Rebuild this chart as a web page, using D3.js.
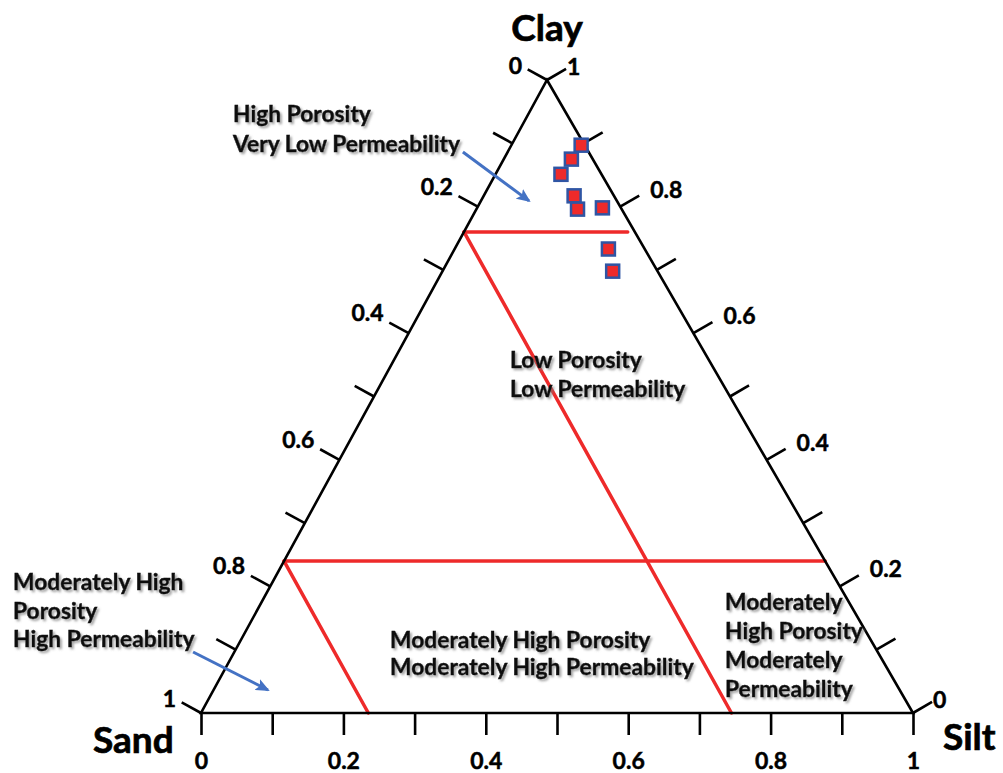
<!DOCTYPE html>
<html>
<head>
<meta charset="utf-8">
<script src="https://cdn.jsdelivr.net/npm/d3@7"></script>
<style>
  html, body { margin: 0; padding: 0; background: #fff; }
  svg { display: block; font-family: Lato, "Open Sans", sans-serif; }
</style>
</head>
<body>
<svg id="chart" width="1003" height="773"></svg>
<script>
// Sample compositions (fractions of sand, silt and clay)
const sampleSand = [0.005, 0.030, 0.057, 0.056, 0.062, 0.026, 0.051, 0.063];
const sampleSilt = [0.098, 0.095, 0.092, 0.127, 0.142, 0.176, 0.216, 0.239];
const sampleClay = [0.897, 0.875, 0.851, 0.817, 0.796, 0.798, 0.733, 0.698];

// Axis ticks and the values that carry a label
const tickValues  = [0, 0.1, 0.2, 0.3, 0.4, 0.5, 0.6, 0.7, 0.8, 0.9, 1];
const labelValues = [0, 0.2, 0.4, 0.6, 0.8, 1];

// Class boundaries as [sand, silt, clay] end points
const boundaryFrom = [[0.24, 0, 0.76], [0.24, 0, 0.76],     [0.76, 0, 0.24], [0.76, 0, 0.24]];
const boundaryTo   = [[0.01, 0.23, 0.76], [0.255, 0.745, 0], [0, 0.76, 0.24], [0.765, 0.235, 0]];

// Class names
const regionText = [
  ["High Porosity", "Very Low Permeability"],
  ["Low Porosity", "Low Permeability"],
  ["Moderately High", "Porosity", "High Permeability"],
  ["Moderately High Porosity", "Moderately High Permeability"],
  ["Moderately", "High Porosity", "Moderately", "Permeability"]
];
// Pointer arrows, [sand, silt, clay] of tail and tip
const arrowTail = [[0.1766, -0.0628, 0.886], [0.962, -0.058, 0.0964]];
const arrowTip  = [[0.1234, 0.0676, 0.809],  [0.887, 0.0764, 0.0363]];

const vertexNames = ["Sand", "Silt", "Clay"];

// ---- layout ----
const svg = d3.select("#chart");
const P = { sand: [201, 713], silt: [913, 713], clay: [547, 80] };

const xScale = d3.scaleLinear().domain([0, 1]).range([P.sand[0], P.silt[0]]);   // silt along the base
const yScale = d3.scaleLinear().domain([0, 1]).range([P.sand[1], P.clay[1]]);   // clay upward
const lean   = d3.scaleLinear().domain([0, 1]).range([0, P.clay[0] - P.sand[0]]);

function project(c) {
  const s = c[0] + c[1] + c[2];
  const si = c[1] / s, cl = c[2] / s;
  return [xScale(si) + lean(cl), yScale(cl)];
}

const fmt = d3.format("~g");
const INK = "#000";
const RED = "#ee2a2a";
const BLUE = "#4472c4";

const defs = svg.append("defs");
const shadow = defs.append("filter").attr("id", "txtShadow")
  .attr("x", "-10%").attr("y", "-30%").attr("width", "130%").attr("height", "170%");
shadow.append("feDropShadow").attr("dx", 2).attr("dy", 2).attr("stdDeviation", 1.3)
  .attr("flood-color", "#777").attr("flood-opacity", 0.65);

defs.append("marker").attr("id", "arrowHead")
  .attr("markerUnits", "userSpaceOnUse")
  .attr("viewBox", "0 0 14 12").attr("markerWidth", 14).attr("markerHeight", 12)
  .attr("refX", 12).attr("refY", 6).attr("orient", "auto")
  .append("path").attr("d", "M0,0 L14,6 L0,12 L3,6 Z").attr("fill", BLUE);

// ---- class boundaries ----
svg.append("g").selectAll("line").data(boundaryFrom).join("line")
  .attr("x1", d => project(d)[0]).attr("y1", d => project(d)[1])
  .attr("x2", (d, i) => project(boundaryTo[i])[0]).attr("y2", (d, i) => project(boundaryTo[i])[1])
  .attr("stroke", RED).attr("stroke-width", 3.5).attr("stroke-linecap", "round");

// ---- triangle frame ----
const corners = [[1, 0, 0], [0, 1, 0], [0, 0, 1]].map(project);
svg.append("path")
  .attr("d", "M" + corners.map(p => p.join(",")).join("L") + "Z")
  .attr("fill", "none").attr("stroke", INK).attr("stroke-width", 2.6).attr("stroke-linejoin", "miter");

// ---- bottom axis (silt) ----
const bottomAxis = d3.axisBottom(xScale)
  .tickValues(tickValues)
  .tickSize(22)
  .tickPadding(18)
  .tickFormat(d => labelValues.includes(d) ? fmt(d) : "");
const gB = svg.append("g").attr("transform", `translate(0,${P.sand[1]})`).call(bottomAxis);
gB.select(".domain").remove();
gB.selectAll(".tick line").attr("stroke", INK).attr("stroke-width", 2.6);
gB.selectAll(".tick text").attr("fill", INK).attr("font-size", 23).attr("font-weight", 700)
  .attr("stroke", INK).attr("stroke-width", 0.5)
  .attr("font-family", "Lato, 'Open Sans', sans-serif");

// ---- slanted axes ----
function unitNormal(a, b, sign) {
  const ex = b[0] - a[0], ey = b[1] - a[1], L = Math.hypot(ex, ey);
  return [sign * ey / L, -sign * ex / L];
}
const nLeft  = unitNormal(P.sand, P.clay, 1);    // points up-left
const nRight = unitNormal(P.silt, P.clay, -1);   // points up-right
const TICK = 22;

// left edge carries sand fraction, right edge carries clay fraction
const leftPts  = tickValues.map(t => ({ t, p: project([t, 0, 1 - t]) }));
const rightPts = tickValues.map(t => ({ t, p: project([0, 1 - t, t]) }));
const atCorner = t => t === 0 || t === 1;

const gTicks = svg.append("g").attr("stroke", INK).attr("stroke-width", 2.6);
gTicks.selectAll(".lt").data(leftPts).join("line").attr("class", "lt")
  .attr("x1", d => d.p[0]).attr("y1", d => d.p[1])
  .attr("x2", d => d.p[0] + nLeft[0] * TICK).attr("y2", d => d.p[1] + nLeft[1] * TICK);
gTicks.selectAll(".rt").data(rightPts).join("line").attr("class", "rt")
  .attr("x1", d => d.p[0]).attr("y1", d => d.p[1])
  .attr("x2", d => d.p[0] + nRight[0] * TICK).attr("y2", d => d.p[1] + nRight[1] * TICK);

const gLab = svg.append("g").attr("fill", INK).attr("font-size", 23).attr("font-weight", 700)
  .attr("stroke", INK).attr("stroke-width", 0.5);
gLab.selectAll(".ll").data(leftPts.filter(d => labelValues.includes(d.t))).join("text").attr("class", "ll")
  .attr("x", d => d.p[0] - 25).attr("y", d => d.p[1] - (atCorner(d.t) ? 14 : 20)).attr("dy", "0.35em")
  .attr("text-anchor", "end").text(d => fmt(d.t));
gLab.selectAll(".rl").data(rightPts.filter(d => labelValues.includes(d.t))).join("text").attr("class", "rl")
  .attr("x", d => d.p[0] + (atCorner(d.t) ? 20 : 30)).attr("y", d => d.p[1] - (atCorner(d.t) ? 13 : 17)).attr("dy", "0.35em")
  .attr("text-anchor", "start").text(d => fmt(d.t));

// ---- vertex names ----
const gV = svg.append("g").attr("fill", INK).attr("font-size", 37).attr("font-weight", 700)
  .attr("stroke", INK).attr("stroke-width", 0.7);
gV.append("text").attr("x", corners[0][0] - 108).attr("y", corners[0][1] + 40).text(vertexNames[0]);
gV.append("text").attr("x", corners[1][0] + 30).attr("y", corners[1][1] + 37).text(vertexNames[1]);
gV.append("text").attr("x", corners[2][0]).attr("y", corners[2][1] - 39).attr("text-anchor", "middle").text(vertexNames[2]);

// ---- class names ----
const regionPos = [[233, 122, 29.5], [510, 368, 28.5], [13, 590, 28.7], [390, 648, 27], [725, 610, 29]];
const gR = svg.append("g").attr("fill", "#111").attr("font-size", 22.8).attr("font-weight", 700)
  .attr("stroke", "#111").attr("stroke-width", 0.45)
  .attr("filter", "url(#txtShadow)");
regionText.forEach((lines, i) => {
  const [x, y, lh] = regionPos[i];
  const t = gR.append("text").attr("x", x).attr("y", y);
  lines.forEach((s, j) => t.append("tspan").attr("x", x).attr("y", y + j * lh).text(s));
});

// ---- arrows ----
svg.append("g").selectAll("line").data(arrowTail).join("line")
  .attr("x1", d => project(d)[0]).attr("y1", d => project(d)[1])
  .attr("x2", (d, i) => project(arrowTip[i])[0]).attr("y2", (d, i) => project(arrowTip[i])[1])
  .attr("stroke", BLUE).attr("stroke-width", 3).attr("marker-end", "url(#arrowHead)");

// ---- samples ----
const samples = sampleSand.map((s, i) => project([s, sampleSilt[i], sampleClay[i]]));
const SQ = 13;
svg.append("g").selectAll("rect").data(samples).join("rect")
  .attr("x", d => d[0] - SQ / 2).attr("y", d => d[1] - SQ / 2)
  .attr("width", SQ).attr("height", SQ)
  .attr("fill", RED).attr("stroke", "#2f55a4").attr("stroke-width", 2.5);
</script>
</body>
</html>
